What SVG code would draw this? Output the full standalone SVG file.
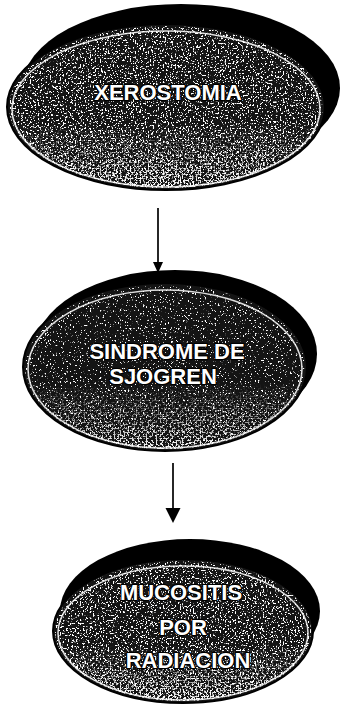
<svg xmlns="http://www.w3.org/2000/svg" width="340" height="707" viewBox="0 0 340 707">
<style>
.shadow{fill:#000}
.body{fill:#141414;stroke:#000;stroke-width:2}
.rim{fill:none;stroke:#fff;stroke-width:1.6;opacity:0.85}
.spk{fill:#fff}
.lbl{font-family:"Liberation Sans",Arial,sans-serif;font-weight:bold;font-size:22px;fill:#fff;stroke:#000;stroke-width:2.4;paint-order:stroke;text-anchor:middle;stroke-linejoin:round}
.conn{stroke:#000;stroke-width:1.7;fill:none}
</style>
<defs>
<filter id="speck" x="0" y="0" width="100%" height="100%">
<feTurbulence type="fractalNoise" baseFrequency="0.6" numOctaves="2" seed="4" result="n"/>
<feColorMatrix in="n" type="matrix" values="0 0 0 0 1  0 0 0 0 1  0 0 0 0 1  14 0 0 0 -8.1" result="w"/>
<feComposite in="w" in2="SourceGraphic" operator="in"/>
</filter>
<filter id="speckD" x="0" y="0" width="100%" height="100%">
<feTurbulence type="fractalNoise" baseFrequency="0.6" numOctaves="2" seed="7" result="n"/>
<feColorMatrix in="n" type="matrix" values="0 0 0 0 1  0 0 0 0 1  0 0 0 0 1  14 0 0 0 -8.9" result="w"/>
<feComposite in="w" in2="SourceGraphic" operator="in"/>
</filter>
<filter id="speck2" x="0" y="0" width="100%" height="100%">
<feTurbulence type="fractalNoise" baseFrequency="0.5" numOctaves="2" seed="9" result="n"/>
<feColorMatrix in="n" type="matrix" values="0 0 0 0 1  0 0 0 0 1  0 0 0 0 1  12 0 0 0 -6.0" result="w"/>
<feComposite in="w" in2="SourceGraphic" operator="in"/>
</filter>
<linearGradient id="fadeB" x1="0" y1="0" x2="0" y2="1">
<stop offset="0" stop-color="#fff" stop-opacity="0"/>
<stop offset="0.6" stop-color="#fff" stop-opacity="0"/>
<stop offset="1" stop-color="#fff" stop-opacity="1"/>
</linearGradient>
<mask id="m1" maskContentUnits="objectBoundingBox"><rect width="1" height="1" fill="url(#fadeB)"/></mask>
<marker id="ah1" markerUnits="userSpaceOnUse" markerWidth="12" markerHeight="12" refX="0" refY="6" orient="auto" viewBox="0 0 12 12">
<path d="M0,1 L11,6 L0,11 Z" fill="#000"/>
</marker>
<marker id="ah2" markerUnits="userSpaceOnUse" markerWidth="16" markerHeight="16" refX="0" refY="8" orient="auto" viewBox="0 0 16 16">
<path d="M0,0.5 L15,8 L0,15.5 Z" fill="#000"/>
</marker>
</defs>
<rect width="340" height="707" fill="#fff"/>
<g id="connectors">
<line class="conn" x1="158" y1="208" x2="158" y2="262" marker-end="url(#ah1)"/>
<line class="conn" x1="173" y1="463" x2="173" y2="508" marker-end="url(#ah2)"/>
</g>
<g id="node-xerostomia">
<ellipse class="shadow" cx="181" cy="88" rx="159" ry="84"/>
<ellipse class="body" cx="166" cy="107" rx="159" ry="83"/>
<ellipse class="spk" cx="166" cy="107" rx="157" ry="81" filter="url(#speck)"/>
<g mask="url(#m1)"><ellipse class="spk" cx="166" cy="107" rx="157" ry="81" filter="url(#speck2)"/></g>
<ellipse class="rim" cx="166" cy="109" rx="154" ry="78"/>
<text class="lbl" x="168" y="100">XEROSTOMIA</text>
</g>
<g id="node-sjogren">
<ellipse class="shadow" cx="175" cy="354" rx="142" ry="84"/>
<ellipse class="body" cx="165" cy="367" rx="142" ry="84"/>
<ellipse class="spk" cx="165" cy="367" rx="140" ry="82" filter="url(#speckD)"/>
<g mask="url(#m1)"><ellipse class="spk" cx="165" cy="367" rx="140" ry="82" filter="url(#speck2)"/></g>
<ellipse class="rim" cx="165" cy="369" rx="137" ry="79"/>
<text class="lbl" x="167" y="359" font-size="21">SINDROME DE</text>
<text class="lbl" x="163" y="384" font-size="21">SJOGREN</text>
</g>
<g id="node-mucositis">
<ellipse class="shadow" cx="190" cy="611" rx="130" ry="72"/>
<ellipse class="body" cx="183" cy="631" rx="130" ry="72"/>
<ellipse class="spk" cx="183" cy="631" rx="128" ry="70" filter="url(#speck)"/>
<g mask="url(#m1)"><ellipse class="spk" cx="183" cy="631" rx="128" ry="70" filter="url(#speck2)"/></g>
<ellipse class="rim" cx="183" cy="633" rx="125" ry="67"/>
<text class="lbl" x="181" y="600">MUCOSITIS</text>
<text class="lbl" x="183" y="635">POR</text>
<text class="lbl" x="188" y="668">RADIACION</text>
</g>
</svg>
